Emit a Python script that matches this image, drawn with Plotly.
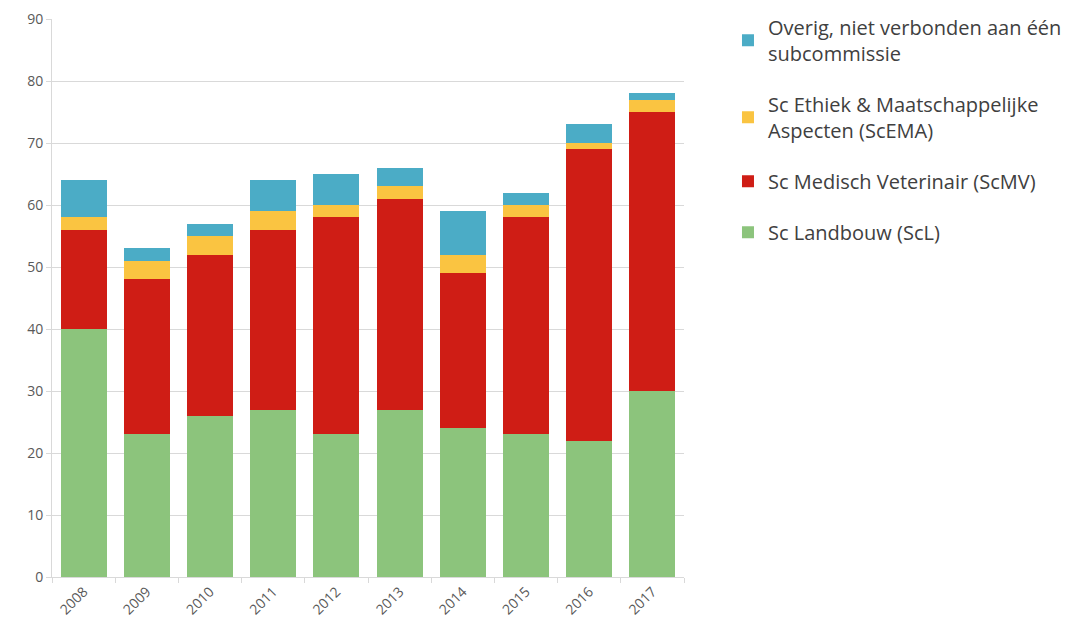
import plotly.graph_objects as go

years = ["2008", "2009", "2010", "2011", "2012", "2013", "2014", "2015", "2016", "2017"]
landbouw = [40, 23, 26, 27, 23, 27, 24, 23, 22, 30]
medisch = [16, 25, 26, 29, 35, 34, 25, 35, 47, 45]
ethiek = [2, 3, 3, 3, 2, 2, 3, 2, 1, 2]
overig = [6, 2, 2, 5, 5, 3, 7, 2, 3, 1]

names = ["Sc Landbouw (ScL)", "Sc Medisch Veterinair (ScMV)",
         "Sc Ethiek & Maatschappelijke<br>Aspecten (ScEMA)",
         "Overig, niet verbonden aan één<br>subcommissie"]
series = [landbouw, medisch, ethiek, overig]
colors = ["#8cc47c", "#cf1d15", "#fac441", "#4bacc6"]

fig = go.Figure()
for i, (n, s, c) in enumerate(zip(names, series, colors)):
    fig.add_trace(go.Bar(x=years, y=s, name=n, marker=dict(color=c, line=dict(width=0)),
                         legendgroup=str(i), legendrank=10 - i))

fig.update_layout(
    barmode="stack",
    bargap=0.27,
    width=1086, height=629,
    margin=dict(l=44, r=410, t=11, b=60, autoexpand=False),
    plot_bgcolor="white", paper_bgcolor="white",
    font=dict(family="Open Sans, Liberation Sans, sans-serif", color="#595959"),
    showlegend=True,
    legend=dict(traceorder="grouped", x=1.0696, y=1.02, xanchor="left", yanchor="top",
                font=dict(size=20, color="#404040"), tracegroupgap=22,
                itemwidth=30),
    xaxis=dict(type="category", tickangle=-45, tickfont=dict(size=14, color="#595959"),
               showline=True, linecolor="#d9d9d9", ticks="outside", tickson="boundaries",
               tickcolor="#d9d9d9", ticklen=5, automargin=False),
    yaxis=dict(range=[0, 90], dtick=10, tickfont=dict(size=14, color="#595959"),
               showgrid=True, gridcolor="#d9d9d9", showline=True, linecolor="#d9d9d9",
               ticks="outside", tickcolor="#d9d9d9", ticklen=5, zeroline=False,
               automargin=False),
)

fig.write_html("out.html")
